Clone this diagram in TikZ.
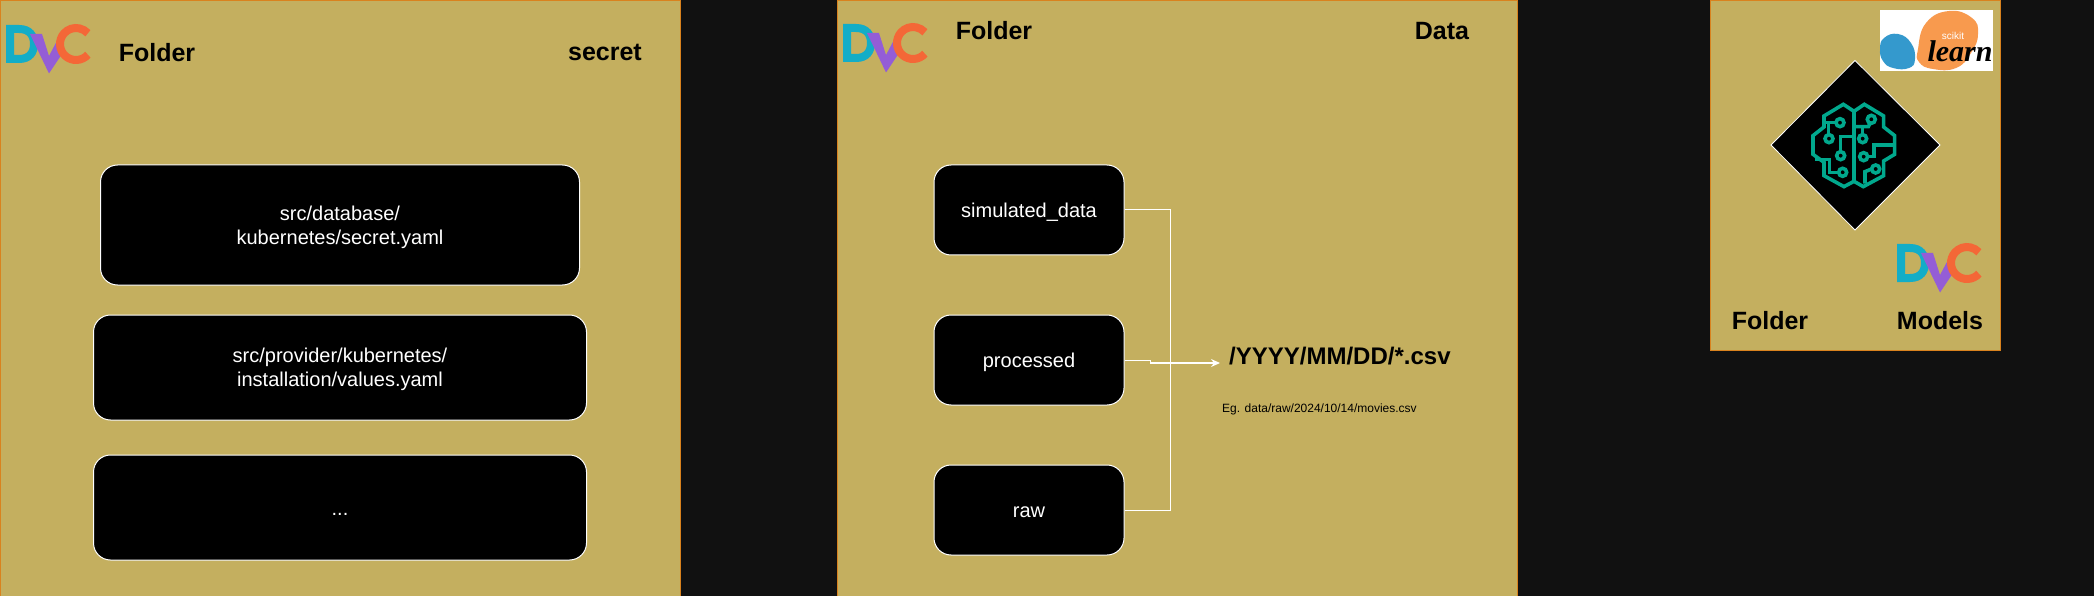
\documentclass[tikz,border=0pt]{standalone}
\usepackage{fontspec}
\setmainfont{Liberation Sans}
\usepackage{tikz}
\usetikzlibrary{positioning, arrows.meta}
\definecolor{pagedark}{RGB}{17, 17, 17}
\definecolor{panelgold}{RGB}{196, 175, 95}
\definecolor{paneledge}{RGB}{217, 130, 30}
\definecolor{dvcteal}{RGB}{19, 173, 199}
\definecolor{dvcpurple}{RGB}{148, 93, 214}
\definecolor{dvcorange}{RGB}{244, 103, 55}
\definecolor{brainteal}{RGB}{1, 168, 141}
\definecolor{skorange}{RGB}{248, 154, 78}
\definecolor{skblue}{RGB}{52, 153, 205}
\tikzset{
    panel/.style={draw=paneledge, line width=1.2pt, fill=panelgold, anchor=north west, inner sep=0pt},
    pathbox/.style={draw=white, line width=1pt, fill=black, text=white, rounded corners=17pt, align=center, text depth=0pt, font=\fontsize{20}{24}\selectfont},
    twolines/.style={pathbox, text depth=-2.2pt},
    oneline/.style={pathbox, text height=14.5pt},
    title/.style={inner sep=0pt, text=black, font=\bfseries\fontsize{25}{30}\selectfont},
    link/.style={draw=white, line width=1pt},
    dvclogo/.pic={
        \draw[dvcteal, line width=8pt, line join=miter] (4,4) -- (4,34) -- (13,34) .. controls (24,34) and (28,27) .. (28,19) .. controls (28,11) and (24,4) .. (13,4) -- cycle;
        \fill[dvcpurple] (24,9) -- (36,9) -- (43,31) -- (52,14) -- (58,26) -- (43,48.5) -- cycle;
        \draw[dvcorange, line width=8pt] (70,19) ++(42:16) arc[start angle=42, end angle=318, radius=16];
    }
}
\begin{document}
\begin{tikzpicture}[x=1pt, y=-1pt, node distance=59pt, every node/.style={align=center}]
        \useasboundingbox (0,0) rectangle (2094,596);
        \fill[pagedark] (0,0) rectangle (2094,596);

        \node[panel, minimum width=680pt, minimum height=596pt] (secretpanel) at (0,0) {};
        \node[panel, minimum width=680pt, minimum height=596pt] (datapanel) at (837,0) {};
        \node[panel, minimum width=290pt, minimum height=350pt] (modelpanel) at (1710,0) {};

        \pic at (6,25) {dvclogo};
        \pic at (843,24) {dvclogo};
        \pic at (1897,244) {dvclogo};

        \node[title] (secretfolder) at (157,52.5) {Folder};
        \node[title] (secretname) at (605,52.5) {secret};
        \node[title] (datafolder) at (994,31) {Folder};
        \node[title] (dataname) at (1442,31) {Data};
        \node[title] (modelfolder) at (1770,321) {Folder};
        \node[title] (modelname) at (1940,321) {Models};

        \node[twolines, minimum width=479pt, minimum height=120pt] (secretyaml) at (340,225) {src/database/\\kubernetes/secret.yaml};
        \node[twolines, minimum width=493pt, minimum height=105pt, below=29pt of secretyaml] (valuesyaml) {src/provider/kubernetes/\\installation/values.yaml};
        \node[pathbox, minimum width=493pt, minimum height=105pt, below=34pt of valuesyaml, text height=15pt] (moreyaml) {...};

        \node[oneline, minimum width=190pt, minimum height=90pt] (simdata) at (1029,210) {simulated\_data};
        \node[oneline, minimum width=190pt, minimum height=90pt, below=of simdata] (processed) {processed};
        \node[oneline, minimum width=190pt, minimum height=90pt, below=of processed] (rawdata) {raw};

        \node[inner sep=0pt, font=\bfseries\fontsize{24}{30}\selectfont, anchor=west] (csvpath) at (1229,356) {/YYYY/MM/DD/*.csv};
        \node[inner sep=0pt, font=\fontsize{12}{16}\selectfont, anchor=west] (csvsample) at (1222,409) {Eg. data/raw/2024/10/14/movies.csv};

        \coordinate (trunk) at (1170,363);
        \coordinate (elbow) at (1150,363);
        \coordinate (arrowend) at (1220,363);

        \draw[link] (simdata.east) -| (trunk);
        \draw[link] (rawdata.east) -| (trunk);
        \draw[link] (processed.east) -| (elbow);
        \draw[link, line width=1.4pt, -{Stealth[length=9pt, width=8pt]}] (elbow) -- (arrowend);

        \fill[white] (1880,10) rectangle (1993,71);
        \fill[skorange] plot[smooth cycle, tension=0.8] coordinates {(1918,49) (1926,23) (1949,11) (1972,18) (1978,34) (1971,53) (1956,68) (1933,69) (1919,62)};
        \fill[skblue] plot[smooth cycle, tension=0.8] coordinates {(1880,49) (1884,38) (1898,34) (1911,43) (1915,59) (1909,68) (1893,68) (1883,61)};
        \node[inner sep=0pt, text=white, font=\fontsize{10}{11}\selectfont] (skscikit) at (1953,36) {scikit};
        \node[inner sep=0pt, text=black, anchor=base, font=\bfseries\itshape\fontsize{30}{32}\selectfont] (sklearn) at (1960,62) {\fontspec{Liberation Serif}learn};

        \fill[black, draw=white, line width=0.8pt] (1855,60.5) -- (1940,145) -- (1855,230) -- (1771,145) -- cycle;

        \begin{scope}[shift={(1700,0)}, x=0.3333pt, y=-0.3333pt, draw=brainteal, line width=3.6pt, line join=miter]
            \draw (462,334) -- (430,313) -- (372,348) -- (372,381) -- (339,407) -- (339,463) -- (372,487) -- (372,527) -- (432,560) -- (462,544) -- (490,560) -- (551,527) -- (551,483) -- (584,463) -- (584,407) -- (551,381) -- (551,348) -- (493,313) -- cycle;
            \draw (462,334) -- (462,544);
            \draw (420,368) circle (12);
            \draw (372,368) -- (408,368);
            \draw (385,368) -- (385,404);
            \draw (387,416) circle (12);
            \draw (422,467) circle (12);
            \draw (422,455) -- (422,410) -- (462,410);
            \draw (428,517) circle (12);
            \draw (416,517) -- (388,517) -- (388,478) -- (345,478);
            \draw (514,358) circle (12);
            \draw (510,370) -- (505,380) -- (462,380);
            \draw (488,416) circle (12);
            \draw (488,404) -- (488,380);
            \draw (491,470) circle (12);
            \draw (503,470) -- (522,470) -- (522,435) -- (584,435);
            \draw (527,507) circle (12);
            \draw (515,507) -- (495,515) -- (495,551);
        \end{scope}
    \end{tikzpicture}
\end{document}
